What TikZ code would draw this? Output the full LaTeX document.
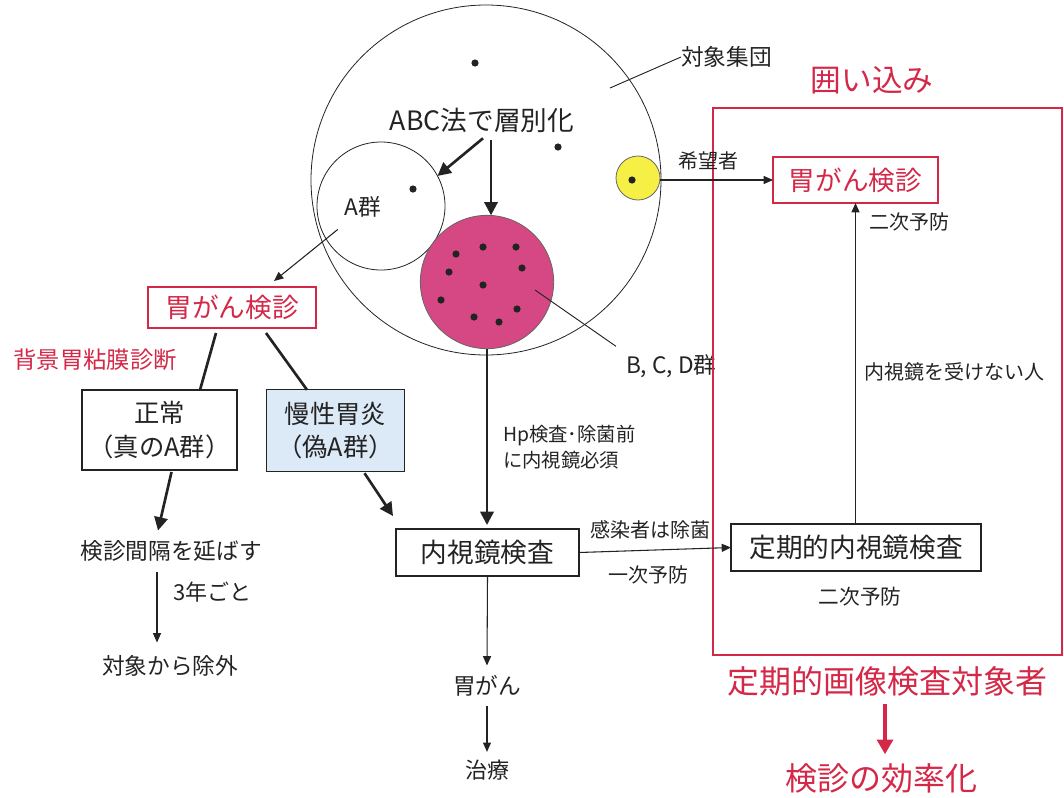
\documentclass[tikz,border=0pt]{standalone}
\usepackage{fontspec}
\setmainfont{Noto Sans CJK JP}
\usetikzlibrary{arrows.meta,calc}
\definecolor{myred}{RGB}{212,40,72}
\definecolor{pinkc}{RGB}{214,72,132}
\definecolor{yel}{RGB}{246,240,70}
\definecolor{lblue}{RGB}{220,233,246}
\definecolor{ink}{RGB}{35,35,35}
\tikzset{
  every node/.style={inner sep=0pt, outer sep=0pt, text=ink},
  fsz/.style={font=\fontsize{#1}{#1}\selectfont},
  box/.style={draw=ink, line width=0.9pt, align=center},
  redbox/.style={draw=myred, line width=0.8pt, text=myred},
  dot/.style={fill=ink},
  thin/.style={draw=ink, line width=0.7pt},
  arr/.style={draw=ink, line width=0.8pt, -{Triangle[length=7pt,width=6pt]}},
  thk/.style={draw=ink, line width=2pt, -{Triangle[length=10pt,width=10pt]}},
  thkline/.style={draw=ink, line width=2pt},
  redarr/.style={draw=myred, line width=2.4pt, -{Triangle[length=11pt,width=12pt]}},
}
\begin{document}
\begin{tikzpicture}[x=0.75pt,y=-0.75pt]
\useasboundingbox (0,0) rectangle (1064,797);
% circles
\node[circle, draw=ink, line width=0.6pt, minimum size=262.5pt] (pop) at (486,180) {};
\node[circle, draw=ink, line width=0.6pt, fill=white, minimum size=96pt] (agrp) at (381,206) {};
\node[circle, draw=ink!70, line width=0.6pt, fill=pinkc, minimum size=100pt] (bcd) at (487,282) {};
\node[circle, draw=ink!70, line width=0.6pt, fill=yel, minimum size=33pt] (hope) at (638,178) {};
% dots
\foreach \p in {(475,63),(558,147),(413,189),(632,180),
  (456,254),(483,247),(516,247),(449,272),(522,268),(483,285),(441,300),(474,317),(499,322),(517,309)}
  \fill[dot] \p circle[radius=3.6];
% labels in top part
\node[fsz=20] (abc) at (482,120) {ABC法で層別化};
\node[fsz=17] (alab) at (363,207) {A群};
\node[fsz=17, anchor=west] (pop lab) at (681,57) {対象集団};
\node[fsz=17, anchor=west] (bcdlab) at (626,366) {B, C, D群};
\coordinate (popin) at (610,88);
\coordinate (bcdin) at (535,290);
\draw[thin] (popin) -- (pop lab.west);
\draw[thin] (bcdin) -- ($(bcdlab.north west)+(-10,-8)$);
\draw[thk] ($(abc.south)+(1,6)$) -- (agrp.28);
\draw[thk] ($(abc.south -| bcd.north)+(4,8)$) -- ($(bcd.north)+(4,0)$);
% left branch
\node[redbox, fsz=20, minimum width=126pt, minimum height=30.75pt] (ken1) at (232,307.5) {胃がん検診};
\draw[arr] ($(alab.south west)+(-7,12)$) -- ($(ken1.north)+(42,-6)$);
\node[fsz=17.5, text=myred] (haikei) at (95,360) {背景胃粘膜診断};
\node[box, minimum width=116.25pt, minimum height=60pt, font=\fontsize{19}{25}\selectfont] (seijo) at (159.5,430) {正常\\（真のA群）};
\node[box, fill=lblue, minimum width=104pt, minimum height=61pt, font=\fontsize{19}{25}\selectfont] (mansei) at (335.5,430.5) {慢性胃炎\\（偽A群）};
\draw[thkline] ($(ken1.south)+(-16,5)$) -- ($(seijo.north)+(40.5,0)$);
\draw[thkline] ($(ken1.south)+(34,5)$) -- ($(mansei.north)+(-28.5,0)$);
\node[fsz=17] (kenkan) at (171,551) {検診間隔を延ばす};
\node[fsz=17] (jogai) at (170,666) {対象から除外};
\node[fsz=16.5, anchor=west] (sannen) at (173,592) {3年ごと};
\draw[thk] ($(seijo.south)+(12,2)$) -- ($(kenkan.north)+(-13,-10)$);
\draw[arr] ($(kenkan.south)+(-14,11)$) -- ($(jogai.north)+(-13,-13)$);
% center column
\node[box, fsz=20, minimum width=137.25pt, minimum height=35.25pt] (naishi) at (487.5,552.5) {内視鏡検査};
\draw[thk] ($(mansei.south)+(29,2)$) -- ($(naishi.north west)+(-3,-13)$);
\draw[thk] (bcd.south) -- ($(naishi.north)+(-0.5,-4)$);
\node[anchor=west, align=left, font=\fontsize{14.5}{19.5}\selectfont] (hp) at (503,447) {Hp検査･除菌前\\に内視鏡必須};
\node[fsz=17] (ica) at (487,686) {胃がん};
\node[fsz=16.5] (chiryo) at (487,770) {治療};
\draw[arr] (naishi.south) -- ($(ica.north)+(0,-10)$);
\draw[arr] ($(ica.south)+(0,9)$) -- ($(chiryo.north)+(0,-8)$);
% right frame
\draw[draw=myred, line width=2.2pt] (713,108) rectangle (1062,655);
\node[fsz=23, text=myred] (kakoi) at (872,80) {囲い込み};
\node[redbox, fsz=20, minimum width=123.75pt, minimum height=34.5pt] (ken2) at (855.5,180) {胃がん検診};
\node[box, fsz=20, minimum width=187.5pt, minimum height=35.25pt] (teiki) at (856,547.5) {定期的内視鏡検査};
\draw[arr] (hope.east |- ken2.west) -- (ken2.west);
\node[fsz=15] (kibo) at (708,161) {希望者};
\draw[arr] (naishi.east) -- (teiki.west);
\node[fsz=15] (kansen) at (650,530) {感染者は除菌};
\node[fsz=15] (ichiji) at (648,575) {一次予防};
\draw[arr] (teiki.north -| ken2.south) -- (ken2.south);
\node[fsz=15] (niji1) at (909,222) {二次予防};
\node[fsz=15] (ukenai) at (954,372) {内視鏡を受けない人};
\node[fsz=15.5] (niji2) at (860,597) {二次予防};
\node[fsz=24, text=myred] (taisho) at (887,681) {定期的画像検査対象者};
\node[fsz=24, text=myred] (koritsu) at (881,778) {検診の効率化};
\draw[redarr] ($(taisho.south)+(-2,8)$) -- ($(koritsu.north)+(4,-9)$);
\end{tikzpicture}
\end{document}
